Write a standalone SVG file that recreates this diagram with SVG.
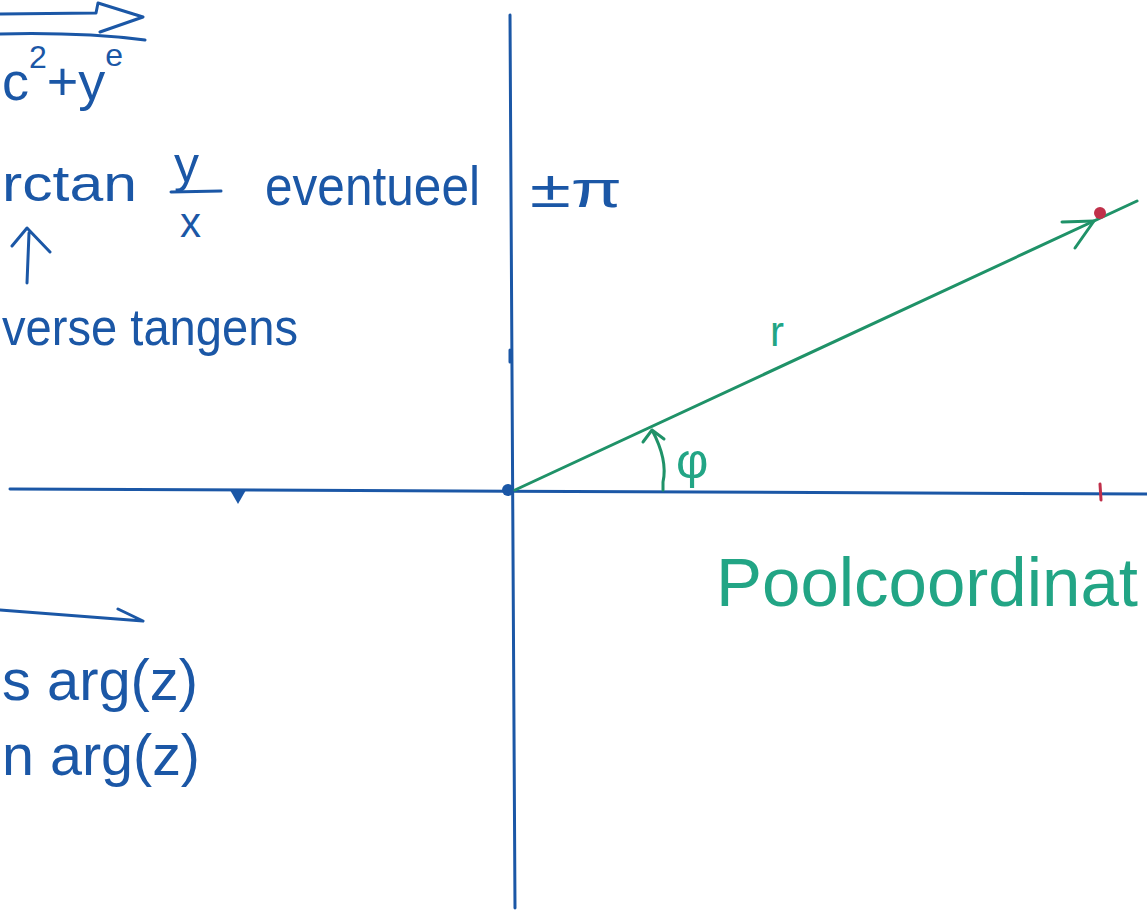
<svg xmlns="http://www.w3.org/2000/svg" width="1147" height="910" viewBox="0 0 1147 910">
<defs>
<style>
.b{fill:none;stroke:#1b57a6;stroke-width:3;stroke-linecap:round;stroke-linejoin:round}
.g{fill:none;stroke:#1f9268;stroke-width:3;stroke-linecap:round;stroke-linejoin:round}
.tb{fill:#1b57a6;font-family:"Liberation Sans","DejaVu Sans",sans-serif}
.tg{fill:#22a585;font-family:"Liberation Sans","DejaVu Sans",sans-serif}
</style>
</defs>
<rect width="1147" height="910" fill="#ffffff"/>
<g id="axes">
<path class="b" d="M510,15 L515,908"/>
<path class="b" d="M10,489 L1147,494"/>
<path class="b" d="M510,350 L510,362"/>
<circle cx="508" cy="490" r="6" fill="#1b57a6"/>
<path d="M230,490 L246,490 L238,504 Z" fill="#1b57a6"/>
<path d="M1100,484 L1101,500" stroke="#c0304a" stroke-width="3" stroke-linecap="round"/>
</g>
<g id="top-arrow">
<path class="b" d="M0,14 L96,13 L98,3 L143,17 L100,32 M0,34 Q80,32 145,40"/>
</g>
<g id="bottom-arrow">
<path class="b" d="M0,610 L143,621 M118,609 L143,621"/>
</g>
<g id="formulas">
<text class="tb" x="2" y="100" font-size="54">c<tspan dy="-32" font-size="32">2</tspan><tspan dy="32" font-size="54">+y</tspan><tspan dy="-34" font-size="32">e</tspan></text>
<text class="tb" x="2" y="201" font-size="50" textLength="135" lengthAdjust="spacingAndGlyphs">rctan</text>
<text class="tb" x="174" y="182" font-size="50">y</text>
<path class="b" d="M171,192 L221,191"/>
<text class="tb" x="180" y="237" font-size="42" fill="#2a6cb0">x</text>
<text class="tb" x="265" y="205" font-size="56" textLength="215" lengthAdjust="spacingAndGlyphs">eventueel</text>
<text class="tb" x="530" y="207" font-size="52" textLength="92" lengthAdjust="spacingAndGlyphs">±π</text>
<path class="b" d="M27,283 L29,233 M12,246 L27,228 L50,252"/>
<text class="tb" x="2" y="345" font-size="52" textLength="296" lengthAdjust="spacingAndGlyphs">verse tangens</text>
<text class="tb" x="2" y="700" font-size="58" textLength="196" lengthAdjust="spacingAndGlyphs">s arg(z)</text>
<text class="tb" x="2" y="775" font-size="58" textLength="198" lengthAdjust="spacingAndGlyphs">n arg(z)</text>
</g>
<g id="vector">
<path class="g" d="M515,490 L1137,201"/>
<path class="g" d="M1062,222 L1094,221 L1075,248"/>
<circle cx="1100" cy="213" r="6" fill="#c0304a"/>
<text class="tg" x="770" y="346" font-size="42" fill="#1f9268">r</text>
</g>
<g id="angle">
<path class="g" d="M663,490 L663,482 Q668,460 652,430 M643,442 L652,430 L664,439"/>
<text class="tg" x="676" y="478" font-size="50">φ</text>
</g>
<g id="label">
<text class="tg" x="716" y="606" font-size="69">Poolcoordinat</text>
</g>
</svg>
